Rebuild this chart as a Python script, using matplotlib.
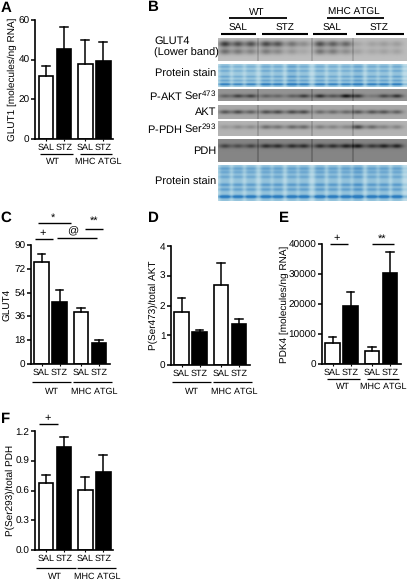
import numpy as np
import matplotlib

matplotlib.use("Agg")
import matplotlib.pyplot as plt
from matplotlib.colors import LinearSegmentedColormap

plt.rcParams["font.family"] = ["Liberation Sans", "DejaVu Sans"]
plt.rcParams["mathtext.default"] = "regular"
plt.rcParams["text.hinting"] = "none"
plt.rcParams["text.hinting_factor"] = 1

W, H = 413, 581

# bar values: SAL/STZ WT, SAL/STZ MHC ATGL, and top of each error bar
glut1 = [32, 45.5, 38, 39.5]
glut1_top = [36.7, 56.5, 50, 48.7]
glut4 = [77, 47, 39, 16]
glut4_top = [83, 56, 42, 18]
pakt = [1.78, 1.12, 2.7, 1.37]
pakt_top = [2.24, 1.19, 3.43, 1.55]
pdk4 = [7000, 19200, 4500, 30200]
pdk4_top = [8900, 24000, 5800, 37400]
ppdh = [0.68, 1.04, 0.61, 0.79]
ppdh_top = [0.76, 1.135, 0.74, 0.96]

bar_labels = ["SAL", "STZ", "SAL", "STZ"]

# blot band strength per lane, 14 lanes
glut4_upper = [.5, .42, .42, .44, .4, .28, .18, .42, .36, .33, .08, .1, .12, .12]
glut4_lower = [.3, .26, .22, .25, .2, .14, .08, .28, .25, .18, .1, .08, .1, .1]
pakt_band = [.2, .32, .32, .2, .18, .2, .34, .4, .25, .5, .36, .1, .3, .38]
akt_band = [.32, .36, .28, .34, .36, .36, .36, .24, .24, .24, .32, .32, .32, .28]
pphd_band = [.1, .15, .15, .26, .24, .28, .28, .2, .18, .16, .42, .28, .18, .18]
pdh_band = [.26, .22, .26, .34, .34, .34, .34, .34, .34, .38, .42, .3, .38, .38]
stain_a = [.75, .6, .65, .8, .75, .95, .75, .75, .7, .7, .9, .75, .75, .8]
stain_b = [.8, .75, .75, .8, .8, .8, .8, .85, .8, .8, .95, .8, .8, .8]

fig = plt.figure(figsize=(W / 100, H / 100), dpi=100)
bg = fig.add_axes([0, 0, 1, 1])
bg.axis("off")


def label(x, y, s, size=7.4, ha="center", **kw):
    bg.text(x, y, s, fontsize=size, ha=ha, va="center", **kw)


def rule(x0, x1, y, lw=1.2):
    bg.plot([x0, x1], [y, y], color="black", lw=lw, solid_capstyle="butt")


def bar_panel(left, right, top, bottom, first, vals, tops, ymax, ticks, ylabel, ylab_x, tickfmt="{:g}"):
    ax = fig.add_axes([left / W, 1 - bottom / H, (right - left) / W, (bottom - top) / H])
    step = 18.0
    pos = np.array([0, 1, 2.2, 3.2])
    ax.set_xlim((left - first) / step, (right - first) / step)
    ax.set_ylim(0, ymax)
    colors = ["white", "black", "white", "black"]
    ax.bar(pos, vals, 0.8, color=colors, edgecolor="black", linewidth=1.2)
    for p, v, t in zip(pos, vals, tops):
        ax.plot([p, p], [v, t], color="black", lw=1.1)
        ax.plot([p - 0.22, p + 0.22], [t, t], color="black", lw=1.1)
    for side in ("top", "right"):
        ax.spines[side].set_visible(False)
    ax.spines["left"].set_linewidth(1.2)
    ax.spines["bottom"].set_linewidth(1.2)
    ax.patch.set_alpha(0)
    ax.set_xticks(pos)
    ax.set_xticklabels(bar_labels, fontsize=6.8)
    ax.set_yticks(ticks)
    ax.set_yticklabels([tickfmt.format(t) for t in ticks], fontsize=7.0)
    ax.tick_params(axis="x", length=1.5, width=0.8, pad=1.5)
    ax.tick_params(axis="y", length=3, width=1.1, pad=1)
    label(ylab_x, (top + bottom) / 2, ylabel, rotation=90)
    return ax


bar_panel(35, 113, 20, 139, 45.75, glut1, glut1_top, 60, [0, 20, 40, 60],
          "GLUT1 [molecules/ng RNA]", 12)
bar_panel(31, 110, 245, 364, 41.5, glut4, glut4_top, 90, [0, 18, 36, 54, 72, 90],
          "GLUT4", 8)
bar_panel(171, 250, 246, 365, 181.5, pakt, pakt_top, 4, [0, 1, 2, 3, 4],
          "P(Ser473)/total AKT", 153)
bar_panel(322, 401, 244, 364, 332.5, pdk4, pdk4_top, 40000, [0, 10000, 20000, 30000, 40000],
          "PDK4 [molecules/ng RNA]", 284)
bar_panel(35, 113, 431, 550, 45.75, ppdh, ppdh_top, 1.2, [0, 0.3, 0.6, 0.9, 1.2],
          "P(Ser293)/total PDH", 10, tickfmt="{:.1f}")

# panel letters
for x, y, s in [(6, 8, "A"), (153, 7, "B"), (6, 218, "C"), (153, 218, "D"), (284, 218, "E"), (6, 419, "F")]:
    label(x, y, s, size=10.5, fontweight="bold")

# group rules and names under the bars
for x0, x1, x2, x3, yl, yt, wx, mx in [
    (40, 73, 80, 112, 154, 162, 53, 98),
    (32, 71, 73, 112, 382, 392, 52, 94),
    (172, 211, 213, 252, 382, 392, 192, 234),
    (327, 360, 367, 399, 379, 387, 343, 383),
    (36, 76, 77, 116, 568, 577, 55, 97),
]:
    rule(x0, x1, yl, 0.9)
    rule(x2, x3, yl, 0.9)
    label(wx, yt, "WT", size=6.8)
    label(mx, yt, "MHC ATGL", size=6.8)

# significance marks
for x0, x1, y, tx, ty, s in [
    (38, 71, 223, 53, 218, "*"),
    (35, 53, 239, 43, 233, "+"),
    (57, 97, 238, 73, 232, "@"),
    (85, 103, 229, 94, 221, "**"),
    (330, 348, 244, 337, 238, "+"),
    (372, 394, 244, 382, 239, "**"),
    (39, 58, 424, 48, 418, "+"),
]:
    rule(x0, x1, y, 1.0)
    label(tx, ty, s, size=8)

# blot header
label(257, 12, "WT", size=7.5)
label(354, 12, "MHC ATGL", size=7.5)
rule(229, 287, 18, 1.3)
rule(327, 384, 18, 1.3)
for x0, x1, tx, s in [(221, 256, 238, "SAL"), (262, 308, 285, "STZ"),
                      (313, 347, 332, "SAL"), (356, 404, 379, "STZ")]:
    rule(x0, x1, 34, 1.5)
    label(tx, 28, s, size=7.5)

label(154, 41, "GLUT4", size=7.8, ha="left")
label(154, 53, "(Lower band)", size=7.8, ha="left")
for y, s in [(74, "Protein stain"), (95, "P-AKT Ser$^{473}$"), (112, "AKT"),
             (128, "P-PDH Ser$^{293}$"), (151, "PDH"), (182, "Protein stain")]:
    label(216, y, s, size=7.8, ha="right")

# lane centres across the blot, px
lanes = np.array([225, 238, 251, 266, 278, 292, 304, 320, 333, 346, 358, 372, 384, 397])
splits = [258, 312, 353]
bx0, bx1 = 218, 407


def blot_strip(y0, y1, base, bands, sigma=1.6, lane_w=6.0):
    # bands: list of (y position, per lane strength)
    xs = np.arange(bx0, bx1) + 0.5
    ys = np.arange(y0, y1, 0.5) + 0.25
    img = np.full((len(ys), len(xs)), float(base))
    for by, strength in bands:
        vert = np.exp(-((ys - by) ** 2) / (2 * sigma ** 2))
        horiz = np.zeros_like(xs)
        for c, s in zip(lanes, strength):
            horiz += s * np.exp(-(np.abs(xs - c) / lane_w) ** 2)
        img -= np.outer(vert, horiz)
    for s in splits:
        img[:, np.abs(xs - s) < 0.6] -= 0.1
    bg.imshow(img, extent=[bx0, bx1, y1, y0], cmap="gray", vmin=0, vmax=1, aspect="auto",
              interpolation="bilinear", zorder=1)


stain_cmap = LinearSegmentedColormap.from_list("stain", ["#e4f0f4", "#a3cde0", "#6aa6d0", "#2a7cc0"])


def stain_strip(y0, y1, strength, rows):
    xs = np.arange(bx0, bx1) + 0.5
    ys = np.arange(y0, y1, 0.5) + 0.25
    frac = (ys - y0) / (y1 - y0)
    prof = np.full_like(ys, 0.42)
    for f, s in rows:
        prof += s * np.exp(-((frac - f) ** 2) / (2 * 0.03 ** 2))
    horiz = np.zeros_like(xs) + 0.45
    for c, s in zip(lanes, strength):
        horiz += 0.7 * s * np.exp(-(np.abs(xs - c) / 5.5) ** 4)
    img = np.outer(prof, horiz)
    bg.imshow(img, extent=[bx0, bx1, y1, y0], cmap=stain_cmap, vmin=0, vmax=1, aspect="auto",
              interpolation="bilinear", zorder=1)


blot_strip(38, 61, 0.74, [(44, glut4_upper), (51.5, glut4_lower)], sigma=2.2)
stain_strip(64, 87, stain_a, [(.12, .25), (.3, .25), (.55, .3), (.72, .3), (.88, .75)])
blot_strip(89, 101, 0.58, [(96, pakt_band)], sigma=1.3)
blot_strip(105, 119, 0.66, [(112, akt_band)], sigma=1.4)
blot_strip(121, 136, 0.70, [(127, pphd_band)], sigma=1.5)
blot_strip(139, 162, 0.52, [(146, pdh_band)], sigma=1.5)
stain_strip(165, 201, stain_b, [(.1, .3), (.2, .25), (.33, .25), (.55, .35), (.68, .3), (.88, .8)])

bg.set_xlim(0, W)
bg.set_ylim(H, 0)

fig.savefig("out.png", dpi=100)
